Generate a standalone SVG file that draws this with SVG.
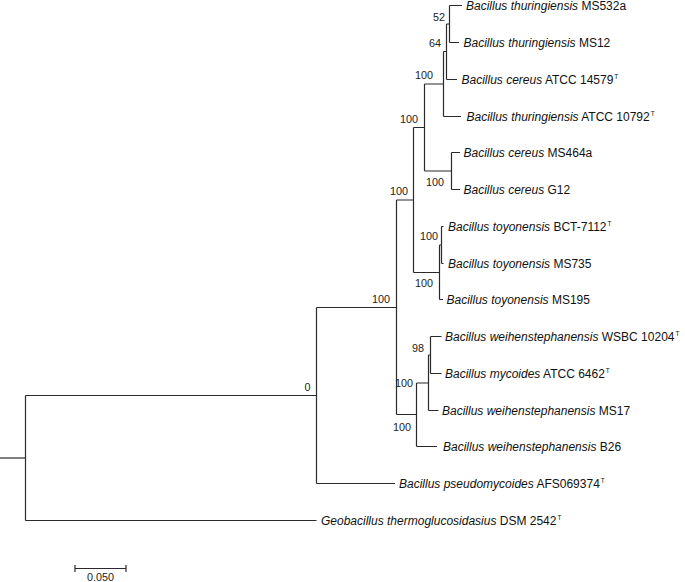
<svg xmlns="http://www.w3.org/2000/svg" width="685" height="582" viewBox="0 0 685 582">
<style>
.br{fill:none;stroke:#2a2a2a;stroke-width:1.2}
.lf{font-family:"Liberation Sans",Arial,sans-serif;font-size:12px;fill:#111}
.i{font-style:italic}
.sup{font-size:6.5px}
.bs{font-family:"Liberation Sans",Arial,sans-serif;font-size:10.8px;fill:#222;text-anchor:end}
.sc{font-family:"Liberation Sans",Arial,sans-serif;font-size:10.8px;fill:#222;text-anchor:middle}
</style>
<rect width="685" height="582" fill="#fff"/>
<g id="connectors" class="br">
<path d="M0 458H25.5"/>
<path d="M25.5 395.5V520.5M25.5 395.5H316.5M25.5 520.5H316.5"/>
<path d="M316.5 307.5V483.5M316.5 307.5H396.5M316.5 483.5H395"/>
<path d="M396.5 200V414.5M396.5 200H413.5M396.5 414.5H416.5"/>
<path d="M413.5 127.5V272.5M413.5 127.5H424.5M413.5 272.5H439.5"/>
<path d="M424.5 84V171M424.5 84H443.5M424.5 171H451.5"/>
<path d="M443.5 51.5V116.5M443.5 51.5H446.5M443.5 116.5H461"/>
<path d="M446.5 24V79.5M446.5 24H449.5M446.5 79.5H457"/>
<path d="M449.5 5.5V42.5M449.5 5.5H462M449.5 42.5H459"/>
<path d="M451.5 152.5V189.5M451.5 152.5H460M451.5 189.5H460"/>
<path d="M439.5 245V299.5M439.5 245H441.5M439.5 299.5H443"/>
<path d="M441.5 226.5V263.5M441.5 226.5H443.5M441.5 263.5H443.5"/>
<path d="M416.5 383V446.5M416.5 383H428.5M416.5 446.5H437"/>
<path d="M428.5 355V410.5M428.5 355H430.5M428.5 410.5H438.5"/>
<path d="M430.5 336.5V373.5M430.5 336.5H441.5M430.5 373.5H441.5"/>
</g>
<g id="leaf-bt-ms532a"><text class="lf" x="466" y="9.8"><tspan class="i">Bacillus thuringiensis</tspan> MS532a</text></g>
<g id="leaf-bt-ms12"><text class="lf" x="463.5" y="46.8"><tspan class="i">Bacillus thuringiensis</tspan> MS12</text></g>
<g id="leaf-bc-atcc14579"><text class="lf" x="461.5" y="83.8"><tspan class="i">Bacillus cereus</tspan> ATCC 14579<tspan class="sup" dx="1" dy="-5">T</tspan></text></g>
<g id="leaf-bt-atcc10792"><text class="lf" x="466.5" y="120.8"><tspan class="i">Bacillus thuringiensis</tspan> ATCC 10792<tspan class="sup" dx="1" dy="-5">T</tspan></text></g>
<g id="leaf-bc-ms464a"><text class="lf" x="463.5" y="156.8"><tspan class="i">Bacillus cereus</tspan> MS464a</text></g>
<g id="leaf-bc-g12"><text class="lf" x="463.5" y="193.8"><tspan class="i">Bacillus cereus</tspan> G12</text></g>
<g id="leaf-bto-bct7112"><text class="lf" x="448" y="230.8"><tspan class="i">Bacillus toyonensis</tspan> BCT-7112<tspan class="sup" dx="1" dy="-5">T</tspan></text></g>
<g id="leaf-bto-ms735"><text class="lf" x="448" y="267.8"><tspan class="i">Bacillus toyonensis</tspan> MS735</text></g>
<g id="leaf-bto-ms195"><text class="lf" x="446.5" y="303.8"><tspan class="i">Bacillus toyonensis</tspan> MS195</text></g>
<g id="leaf-bw-wsbc10204"><text class="lf" x="445" y="340.8"><tspan class="i">Bacillus weihenstephanensis</tspan> WSBC 10204<tspan class="sup" dx="1" dy="-5">T</tspan></text></g>
<g id="leaf-bm-atcc6462"><text class="lf" x="445" y="377.8"><tspan class="i">Bacillus mycoides</tspan> ATCC 6462<tspan class="sup" dx="1" dy="-5">T</tspan></text></g>
<g id="leaf-bw-ms17"><text class="lf" x="442" y="414.8"><tspan class="i">Bacillus weihenstephanensis</tspan> MS17</text></g>
<g id="leaf-bw-b26"><text class="lf" x="443" y="450.8"><tspan class="i">Bacillus weihenstephanensis</tspan> B26</text></g>
<g id="leaf-bp-afs069374"><text class="lf" x="399" y="487.8"><tspan class="i">Bacillus pseudomycoides</tspan> AFS069374<tspan class="sup" dx="1" dy="-5">T</tspan></text></g>
<g id="leaf-gt-dsm2542"><text class="lf" x="321" y="524.8"><tspan class="i">Geobacillus thermoglucosidasius</tspan> DSM 2542<tspan class="sup" dx="1" dy="-5">T</tspan></text></g>
<g id="node-A"><text class="bs" x="445" y="21">52</text></g>
<g id="node-B"><text class="bs" x="441" y="46.5">64</text></g>
<g id="node-C"><text class="bs" x="433" y="79">100</text></g>
<g id="node-C2"><text class="bs" x="418" y="123">100</text></g>
<g id="node-K"><text class="bs" x="444" y="185.5">100</text></g>
<g id="node-H"><text class="bs" x="408" y="194.5">100</text></g>
<g id="node-G"><text class="bs" x="390" y="303">100</text></g>
<g id="node-T1"><text class="bs" x="438" y="240">100</text></g>
<g id="node-T"><text class="bs" x="433" y="287">100</text></g>
<g id="node-D"><text class="bs" x="424" y="351.5">98</text></g>
<g id="node-E"><text class="bs" x="413" y="387">100</text></g>
<g id="node-F"><text class="bs" x="411" y="430.5">100</text></g>
<g id="node-U"><text class="bs" x="310.5" y="390.5">0</text></g>
<g id="scale-bar">
<path class="br" d="M75 568.5H126M75 565V572M126 565V572"/>
<text class="sc" x="100.5" y="580.5">0.050</text>
</g>
</svg>
